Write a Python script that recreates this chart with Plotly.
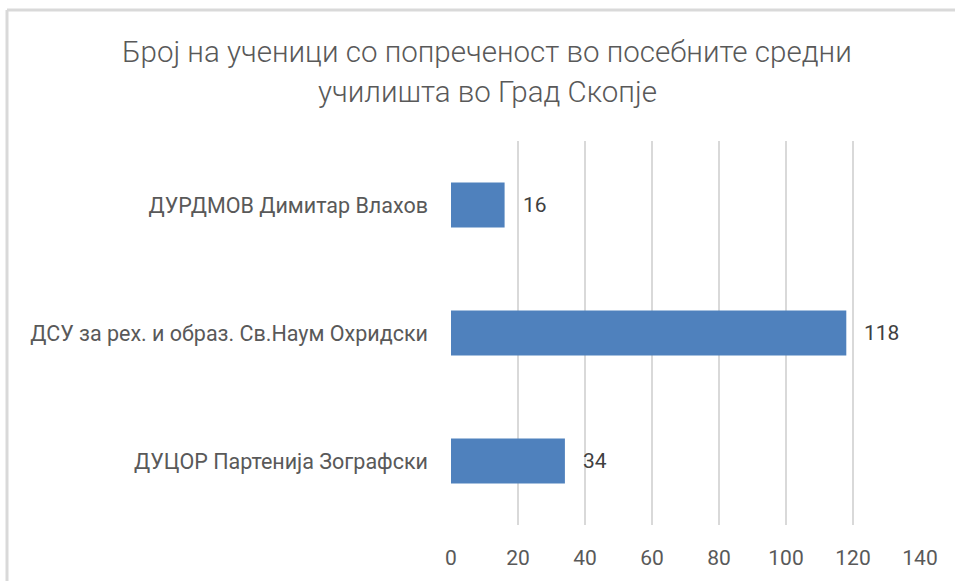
import plotly.graph_objects as go

categories = [
    "ДУЦОР Партенија Зографски",
    "ДСУ за рех. и образ. Св.Наум Охридски",
    "ДУРДМОВ Димитар Влахов",
]
values = [34, 118, 16]
tick_values = [0, 20, 40, 60, 80, 100, 120, 140]
title_lines = ["Број на ученици со попреченост во посебните средни", "училишта во Град Скопје"]

W, H = 955, 581
L, R, T, B = 451, 35, 141, 56
pw, ph = W - L - R, H - T - B

def px_x(x):
    return (x - L) / pw

def px_y(y):
    return 1 - (y - T) / ph

font_fam = "Roboto, Open Sans, sans-serif"
grey = "#595959"

fig = go.Figure(go.Bar(
    y=categories,
    x=values,
    orientation="h",
    marker=dict(color="#4f81bd", line=dict(width=0)),
    hoverinfo="x+y",
))

annotations = [
    dict(text=title_lines[0], x=px_x(487), y=px_y(52), xref="paper", yref="paper",
         xanchor="center", yanchor="middle", showarrow=False,
         font=dict(family=font_fam, size=29.5, color=grey, weight=300)),
    dict(text=title_lines[1], x=px_x(487), y=px_y(92), xref="paper", yref="paper",
         xanchor="center", yanchor="middle", showarrow=False,
         font=dict(family=font_fam, size=29.5, color=grey, weight=300)),
]
for c, v in zip(categories, values):
    annotations.append(dict(
        text=str(v), x=v, y=c, xref="x", yref="y", xanchor="left", yanchor="middle",
        xshift=16, showarrow=False,
        font=dict(family=font_fam, size=21, color="#404040"),
    ))

fig.update_layout(
    width=W, height=H,
    margin=dict(l=L, r=R, t=T, b=B, pad=0),
    paper_bgcolor="white",
    plot_bgcolor="white",
    showlegend=False,
    bargap=0.65,
    xaxis=dict(
        range=[0, 140],
        tickvals=tick_values,
        showgrid=True, gridcolor="#d9d9d9", gridwidth=2,
        zeroline=False, showline=False, ticks="",
        tickfont=dict(family=font_fam, size=21, color=grey),
        ticklabelstandoff=18,
        fixedrange=True,
    ),
    yaxis=dict(
        showgrid=False, zeroline=False, showline=False, ticks="",
        tickfont=dict(family=font_fam, size=21.5, color=grey),
        ticklabelstandoff=22,
        fixedrange=True,
    ),
    annotations=annotations,
    shapes=[
        dict(type="line", xref="paper", yref="paper", x0=px_x(7), x1=px_x(W + 5),
             y0=px_y(10), y1=px_y(10), line=dict(color="#d9d9d9", width=3)),
        dict(type="line", xref="paper", yref="paper", x0=px_x(7), x1=px_x(7),
             y0=px_y(10), y1=px_y(H + 5), line=dict(color="#d9d9d9", width=3)),
    ],
)

fig.write_html("out.html", config={"displayModeBar": False},
               post_script="document.body.style.margin='0';document.body.style.overflow='hidden';")
